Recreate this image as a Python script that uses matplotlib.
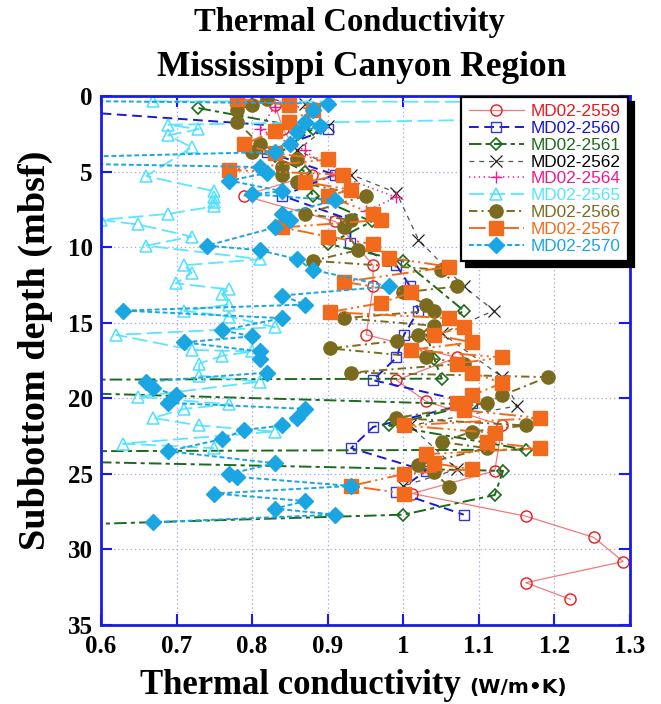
import matplotlib
matplotlib.use('Agg')
import matplotlib.pyplot as plt

plt.rcParams['lines.scale_dashes'] = False

# ---------------- data (depth in mbsf, conductivity in W/m.K) ----------------
d_2559 = [0.6, 2.2, 5.2, 6.6, 8.3, 11.2, 12.6, 15.8, 17.3, 18.8, 20.2, 21.8, 24.8, 26.3, 27.8, 29.2, 30.8, 32.2, 33.3]
k_2559 = [0.830, 0.841, 0.879, 0.789, 0.910, 0.960, 0.960, 0.951, 1.071, 0.991, 1.030, 1.131, 1.121, 1.012, 1.162, 1.252, 1.291, 1.162, 1.221]

d_2560 = [0.8, 2.2, 3.7, 5.2, 6.6, 8.2, 9.7, 11.2, 12.6, 14.2, 15.8, 17.3, 18.8, 20.3, 21.9, 23.3, 24.8, 26.2, 27.7]
k_2560 = [0.50, 0.900, 0.819, 0.909, 0.840, 0.930, 0.930, 0.991, 1.009, 1.020, 1.001, 0.991, 0.960, 1.091, 0.960, 0.931, 1.030, 0.991, 1.080]

d_2561 = [0.8, 2.2, 4.0, 5.0, 6.6, 8.3, 9.8, 10.9, 14.2, 15.8, 17.4, 18.7, 18.85, 20.4, 21.8, 23.4, 23.6, 24.8, 26.4, 27.7, 29.2]
k_2561 = [0.729, 0.880, 0.830, 0.870, 0.880, 0.958, 0.901, 1.000, 1.080, 1.031, 1.041, 1.051, 0.0, 1.091, 0.981, 1.162, 0.0, 1.132, 1.121, 1.000, 0.0]

d_2562 = [0.5, 2.0, 3.6, 5.2, 6.4, 9.5, 12.6, 14.2, 15.7, 18.6, 20.5, 21.8, 24.7, 25.8]
k_2562 = [0.870, 0.900, 0.860, 0.931, 0.991, 1.020, 1.080, 1.120, 1.051, 1.131, 1.151, 1.009, 1.071, 1.000]

d_2564 = [0.7, 2.2, 3.6, 5.2, 6.7, 7.6]
k_2564 = [0.830, 0.810, 0.870, 0.910, 0.991, 0.951]

d_2565 = [0.35, 0.5, 1.9, 2.2, 2.6, 3.4, 5.3, 6.3, 6.7, 7.0, 7.3, 7.8, 8.2, 8.5, 9.3, 9.9, 10.8, 11.2, 11.7,
          12.4, 12.8, 13.1, 13.8, 14.2, 14.6, 15.3, 15.8, 16.8, 16.9, 17.2, 17.7, 18.5, 18.9, 19.9, 20.4,
          20.7, 21.3, 21.8, 22.2, 23.0, 23.3]
k_2565 = [0.669, 2.5, 0.689, 0.729, 0.689, 0.720, 0.660, 0.750, 0.750, 0.750, 0.750, 0.689, 0.600, 0.649, 0.720,
          0.660, 0.811, 0.710, 0.720, 0.699, 0.770, 0.760, 0.770, 0.710, 0.770, 0.830, 0.620, 0.720, 0.800,
          0.760, 0.730, 0.730, 0.810, 0.649, 0.770, 0.710, 0.669, 0.730, 0.830, 0.629, 0.750]

d_2566 = [0.2, 0.6, 0.9, 1.7, 3.2, 3.7, 4.2, 4.7, 5.2, 5.7, 6.6, 7.8, 8.2, 8.7, 10.2, 10.9, 11.5, 12.6, 13.0,
          13.8, 14.2, 14.7, 15.2, 15.8, 16.2, 16.7, 17.3, 17.7, 18.3, 18.6, 19.8, 20.3, 21.3, 21.8, 22.2,
          22.9, 23.3, 24.4, 24.9, 25.9]
k_2566 = [0.819, 0.800, 0.780, 0.780, 0.810, 0.800, 0.860, 0.840, 0.840, 0.860, 0.950, 0.870, 0.931, 0.921,
          0.940, 0.880, 1.050, 1.071, 0.999, 1.030, 1.040, 0.921, 1.041, 1.020, 0.992, 0.903, 1.030, 1.081,
          0.931, 1.191, 1.131, 1.111, 0.991, 1.162, 1.091, 1.051, 1.111, 1.020, 1.041, 1.061]

d_2567 = [0.2, 0.6, 0.9, 1.7, 2.3, 3.2, 3.8, 4.2, 4.9, 5.2, 5.7, 6.2, 6.6, 7.8, 8.2, 8.7, 9.3, 9.8, 10.7,
          11.3, 12.3, 13.0, 13.7, 14.3, 14.7, 15.3, 15.8, 16.3, 16.8, 17.3, 17.7, 18.3, 19.0, 19.8, 20.3,
          20.8, 21.3, 21.8, 22.3, 22.9, 23.3, 23.7, 24.3, 24.7, 25.0, 25.8, 26.3]
k_2567 = [0.780, 0.849, 0.880, 0.849, 0.830, 0.789, 0.830, 0.900, 0.770, 0.920, 0.870, 0.931, 0.900, 0.960,
          0.970, 0.840, 0.900, 0.960, 0.981, 1.061, 0.921, 1.010, 0.970, 0.903, 1.061, 1.080, 1.041, 1.091,
          1.010, 1.131, 1.071, 1.091, 1.131, 1.091, 1.071, 1.081, 1.181, 1.001, 1.121, 1.111, 1.181, 1.030,
          1.041, 1.091, 1.001, 0.931, 1.001]

d_2570 = [0.2, 0.5, 0.9, 1.7, 2.0, 2.4, 3.2, 3.7, 4.3, 4.7, 5.1, 5.6, 6.3, 6.5, 6.9, 7.8, 8.2, 8.7, 9.9, 10.2,
          10.8, 11.5, 12.6, 13.2, 13.8, 14.2, 14.7, 15.5, 15.9, 16.3, 16.9, 17.4, 18.3, 18.9, 19.3, 19.8,
          20.3, 20.7, 21.3, 21.8, 22.1, 22.7, 23.5, 24.3, 25.0, 25.2, 25.8, 26.3, 26.8, 27.3, 27.7, 28.2]
k_2570 = [0.30, 0.900, 0.880, 0.870, 0.890, 0.860, 0.850, 0.830, 0.35, 0.810, 0.819, 0.770, 0.840, 0.800, 0.910,
          0.840, 0.850, 0.830, 0.740, 0.810, 0.860, 0.880, 0.981, 0.840, 0.870, 0.629, 0.840, 0.760, 0.800,
          0.710, 0.810, 0.810, 0.819, 0.660, 0.669, 0.699, 0.689, 0.870, 0.860, 0.840, 0.789, 0.760, 0.689,
          0.830, 0.770, 0.780, 0.931, 0.750, 0.870, 0.830, 0.910, 0.669]

labels = ['MD02-2559', 'MD02-2560', 'MD02-2561', 'MD02-2562', 'MD02-2564',
          'MD02-2565', 'MD02-2566', 'MD02-2567', 'MD02-2570']
depths = [d_2559, d_2560, d_2561, d_2562, d_2564, d_2565, d_2566, d_2567, d_2570]
values = [k_2559, k_2560, k_2561, k_2562, k_2564, k_2565, k_2566, k_2567, k_2570]

x_ticks = [0.6, 0.7, 0.8, 0.9, 1.0, 1.1, 1.2, 1.3]
x_tick_labels = ['0.6', '0.7', '0.8', '0.9', '1', '1.1', '1.2', '1.3']
y_ticks = [0, 5, 10, 15, 20, 25, 30, 35]

# ---------------- styles ----------------
styles = [
    dict(color='#f27a7a', ls='-', lw=0.9, marker='o', ms=8, mfc='none', mec='#e8191e', mew=1.0),
    dict(color='#1a1ad6', ls=(0, (7, 4)), lw=1.4, marker='s', ms=7.5, mfc='none', mec='#3434d8', mew=1.0),
    dict(color='#1b6b1b', ls=(0, (9, 3, 3, 3)), lw=1.4, marker='D', ms=6.5, mfc='none', mec='#1b6b1b', mew=1.2),
    dict(color='#555555', ls=(0, (3.5, 3.5)), lw=0.9, marker='x', ms=8, mfc='none', mec='#222222', mew=0.9),
    dict(color='#ee1a8c', ls=(0, (1, 2.5)), lw=1.1, marker='+', ms=9, mec='#ee1a8c', mew=1.0),
    dict(color='#5ae6ff', ls=(0, (11, 4)), lw=1.3, marker='^', ms=8.5, mfc='none', mec='#4fe0ff', mew=1.1),
    dict(color='#7b6b1f', ls=(0, (6, 3, 1.5, 3)), lw=1.4, marker='o', ms=9.5, mfc='#7b6b1f', mec='#7b6b1f'),
    dict(color='#f26b1d', ls=(0, (12, 3, 1.5, 3, 1.5, 3)), lw=1.4, marker='s', ms=9.5, mfc='#f26b1d', mec='#f26b1d'),
    dict(color='#1aa6e2', ls=(0, (3.5, 2)), lw=1.4, marker='D', ms=8, mfc='#1aa6e2', mec='#1aa6e2'),
]
text_colors = ['#e8191e', '#1515d0', '#1e6b1e', '#000000', '#ee1a8c',
               '#55e6ff', '#7b6b1f', '#f26b1d', '#1aa6e2']

serif = ['Liberation Serif', 'DejaVu Serif']
sans = ['Liberation Sans', 'DejaVu Sans']
spine_col = '#1a1aee'

fig = plt.figure(figsize=(6.61, 7.04), dpi=100)
ax = fig.add_axes([101 / 661, 1 - 625 / 704, 529 / 661, 529 / 704])

handles = []
for lab, d, k, st in zip(labels, depths, values, styles):
    h, = ax.plot(k, d, label=lab, **st)
    handles.append(h)

ax.set_xlim(0.6, 1.3)
ax.set_ylim(35, 0)
ax.set_xticks(x_ticks)
ax.set_xticklabels(x_tick_labels)
ax.set_yticks(y_ticks)
ax.grid(True, color='#a8a8f0', linestyle=(0, (1, 2)), lw=0.9)
ax.set_axisbelow(True)
for s in ax.spines.values():
    s.set_color(spine_col)
    s.set_linewidth(2)
ax.tick_params(axis='both', which='major', direction='in', length=8, width=1.5,
               color=spine_col, top=True, right=True)
ax.tick_params(axis='x', pad=7)
ax.tick_params(axis='y', pad=6)
for t in ax.get_xticklabels() + ax.get_yticklabels():
    t.set_fontfamily(serif)
    t.set_fontweight('bold')
    t.set_fontsize(18)

leg = ax.legend(handles=handles, loc='upper right', bbox_to_anchor=(0.997, 0.999),
                borderaxespad=0, prop={'family': sans, 'size': 12.4},
                frameon=True, fancybox=False, framealpha=1, edgecolor='black',
                handlelength=3.2, handletextpad=0.4, labelspacing=0.1, borderpad=0.45,
                shadow={'ox': 4, 'oy': -4, 'color': 'black', 'alpha': 1})
leg.get_frame().set_linewidth(1.6)
for t, c in zip(leg.get_texts(), text_colors):
    t.set_color(c)

# titles and axis labels
fig.text(0.529, 1 - 23 / 704, 'Thermal Conductivity', ha='center', va='center',
         family=serif, weight='bold', fontsize=23.5)
fig.text(362 / 661, 1 - 67 / 704, 'Mississippi Canyon Region', ha='center', va='center',
         family=serif, weight='bold', fontsize=25.5)
fig.text(35 / 661, 1 - 350 / 704, 'Subbottom depth (mbsf)', ha='center', va='center',
         rotation=90, family=serif, weight='bold', fontsize=27.5)
fig.text(300 / 661, 1 - 686 / 704, 'Thermal conductivity', ha='center', va='center',
         family=serif, weight='bold', fontsize=25)
fig.text(518 / 661, 1 - 688 / 704, '(W/m\u2022K)', ha='center', va='center',
         family=['Liberation Sans Narrow', 'DejaVu Sans'], weight='bold', fontsize=14.5)

fig.savefig('out.png', dpi=100)
